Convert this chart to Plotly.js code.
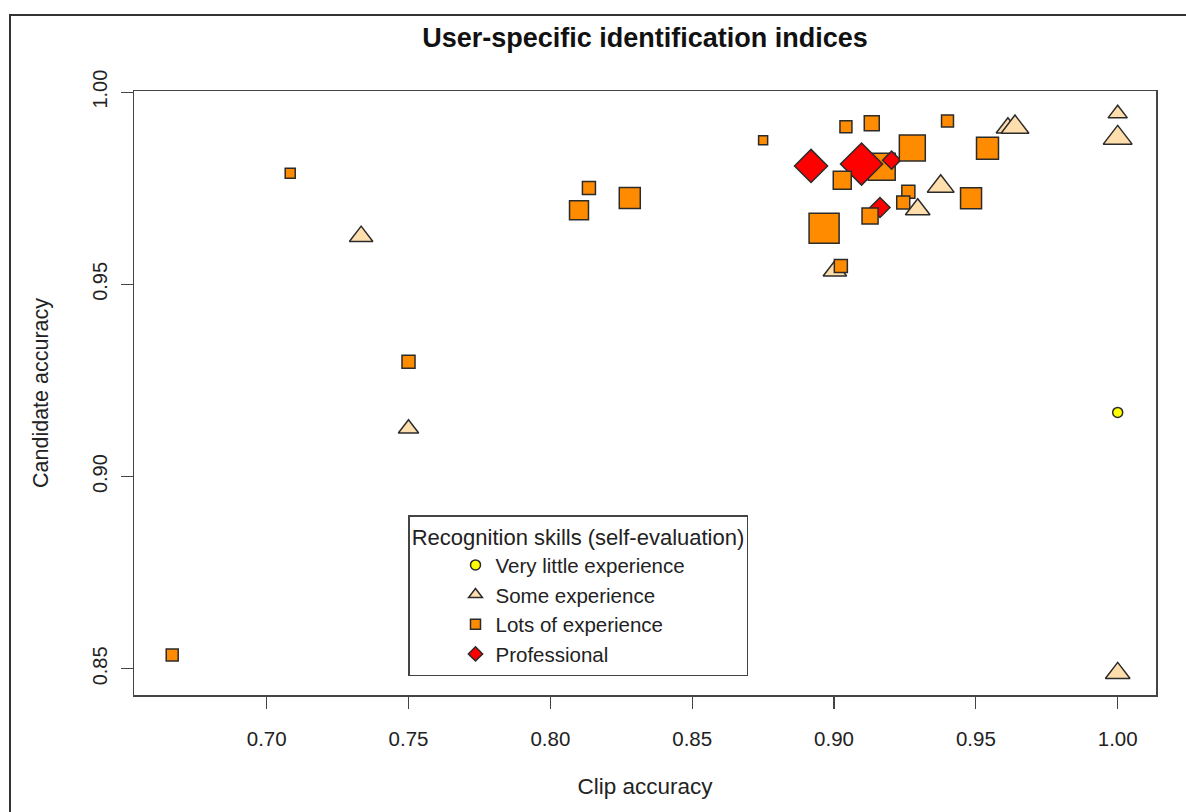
<!DOCTYPE html>
<html>
<head>
<meta charset="utf-8">
<script src="https://cdn.plot.ly/plotly-3.0.1.min.js"></script>
<style>
  html, body { margin: 0; padding: 0; background: #fff; }
  #chart { position: absolute; left: 0; top: 0; width: 1186px; height: 812px; }
  #frame { position: absolute; left: 9px; top: 14px; width: 1200px; height: 820px;
           border-left: 2px solid #333; border-top: 2px solid #333; pointer-events: none; }
</style>
</head>
<body>
<div id="chart"></div>
<div id="frame"></div>
<script>
// ---- data (one entry per user, in plotting order) ----
const clipAccuracy = [0.6667, 0.7083, 0.7333, 0.7500, 0.7500, 0.8101, 0.8136, 0.8280, 0.8750, 0.8965,
                      0.9003, 0.9024, 0.9042, 0.9133, 0.9168, 0.8919, 0.9097, 0.9029, 0.9203, 0.9162,
                      0.9127, 0.9262, 0.9244, 0.9295, 0.9276, 0.9376, 0.9400, 0.9483, 0.9541, 0.9613,
                      0.9638, 1.0000, 1.0000, 1.0000, 1.0000];
const candidateAccuracy = [0.8536, 0.9789, 0.9625, 0.9299, 0.9125, 0.9693, 0.9751, 0.9725, 0.9875, 0.9646,
                           0.9535, 0.9548, 0.9910, 0.9919, 0.9806, 0.9808, 0.9813, 0.9771, 0.9823, 0.9700,
                           0.9678, 0.9741, 0.9713, 0.9695, 0.9855, 0.9755, 0.9925, 0.9724, 0.9854, 0.9907,
                           0.9909, 0.9944, 0.9881, 0.9167, 0.8489];
const skillLevel = ["L","L","S","L","S","L","L","L","L","L",
                    "S","L","L","L","L","P","P","L","P","P",
                    "L","L","L","S","L","S","L","L","L","S",
                    "S","S","S","V","S"];
// relative symbol size (R cex) per user
const symbolCex = [1.35, 1.13, 1.63, 1.47, 1.41, 2.14, 1.47, 2.37, 1.02, 3.39,
                   1.63, 1.47, 1.35, 1.69, 3.05, 2.64, 3.36, 2.03, 1.44, 1.60,
                   1.81, 1.47, 1.47, 1.71, 2.93, 1.86, 1.35, 2.37, 2.48, 1.63,
                   1.93, 1.34, 2.00, 1.00, 1.71];
const skillCodes = ["V", "S", "L", "P"];
const skillNames = ["Very little experience", "Some experience", "Lots of experience", "Professional"];
const xTicks = [0.70, 0.75, 0.80, 0.85, 0.90, 0.95, 1.00];
const yTicks = [0.85, 0.90, 0.95, 1.00];

// ---- styles ----
const FONT = "Liberation Sans, Arial, Helvetica, sans-serif";
const styleBySkill = {
  V: { symbol: "circle",      color: "#FFFF00", factor: 2.0,   legendSize: 10 },
  S: { symbol: "triangle-up", color: "#FFDEAD", factor: 2.5,   legendSize: 12 },
  L: { symbol: "square",      color: "#FF8C00", factor: 1.772, legendSize: 10 },
  P: { symbol: "diamond",     color: "#FF0000", factor: 1.929, legendSize: 11 }
};
const BASE_R = 5;
const OUTLINE = { color: "#2b2b2b", width: 1.5 };

const pointTrace = {
  type: "scatter", mode: "markers",
  x: clipAccuracy, y: candidateAccuracy,
  showlegend: false, hoverinfo: "skip",
  marker: {
    symbol: skillLevel.map(s => styleBySkill[s].symbol),
    color: skillLevel.map(s => styleBySkill[s].color),
    size: skillLevel.map((s, i) => BASE_R * symbolCex[i] * styleBySkill[s].factor),
    opacity: 1,
    line: OUTLINE
  }
};

const legendTraces = skillCodes.map((c, i) => ({
  type: "scatter", mode: "markers",
  x: [null], y: [null],
  name: skillNames[i],
  showlegend: true, hoverinfo: "skip",
  marker: { symbol: styleBySkill[c].symbol, color: styleBySkill[c].color, opacity: 1,
            size: styleBySkill[c].legendSize, line: OUTLINE }
}));

const L = 134, R = 1156, T = 91, B = 695;
const layout = {
  width: 1186, height: 812,
  paper_bgcolor: "#ffffff", plot_bgcolor: "#ffffff",
  margin: { l: L, r: 1186 - R, t: T, b: 812 - B, pad: 0 },
  font: { family: FONT, color: "#222222", size: 20 },
  showlegend: true,
  title: {
    text: "<b>User-specific identification indices</b>",
    font: { family: FONT, size: 27, color: "#111111" },
    x: 0.5, xref: "paper", xanchor: "center",
    y: 1 - 38 / 812, yref: "container", yanchor: "middle"
  },
  xaxis: {
    range: [0.65323, 1.0135],
    tickvals: xTicks, ticktext: xTicks.map(v => v.toFixed(2)),
    ticks: "outside", ticklen: 12, tickwidth: 1.2, tickcolor: "#444444",
    ticklabelstandoff: 13,
    tickfont: { family: FONT, size: 20.5, color: "#222222" },
    showline: true, linecolor: "#444444", linewidth: 1.5, mirror: true,
    showgrid: false, zeroline: false,
    title: { text: "Clip accuracy", font: { family: FONT, size: 22.5, color: "#222222" }, standoff: 29 }
  },
  yaxis: {
    range: [0.8432, 1.0003],
    tickvals: yTicks, ticktext: yTicks.map(v => v.toFixed(2)),
    ticks: "outside", ticklen: 12, tickwidth: 1.2, tickcolor: "#444444",
    tickangle: -90, ticklabelstandoff: 6,
    tickfont: { family: FONT, size: 20, color: "#222222" },
    showline: true, linecolor: "#444444", linewidth: 1.5, mirror: true,
    showgrid: false, zeroline: false,
    title: { text: "Candidate accuracy", font: { family: FONT, size: 21.5, color: "#222222" }, standoff: 34 }
  },
  legend: {
    x: (408 - L) / (R - L), xanchor: "left",
    y: (B - 515) / (B - T), yanchor: "top",
    bgcolor: "#ffffff", bordercolor: "#444444", borderwidth: 1.5,
    font: { family: FONT, size: 20.5, color: "#222222" },
    title: { text: "Recognition skills (self-evaluation)", side: "top center",
             font: { family: FONT, size: 22, color: "#222222" } },
    indentation: 46,
    traceorder: "normal", itemsizing: "trace"
  },
  hovermode: false
};

Plotly.newPlot("chart", [pointTrace].concat(legendTraces), layout, { staticPlot: true, displayModeBar: false });
</script>
</body>
</html>
